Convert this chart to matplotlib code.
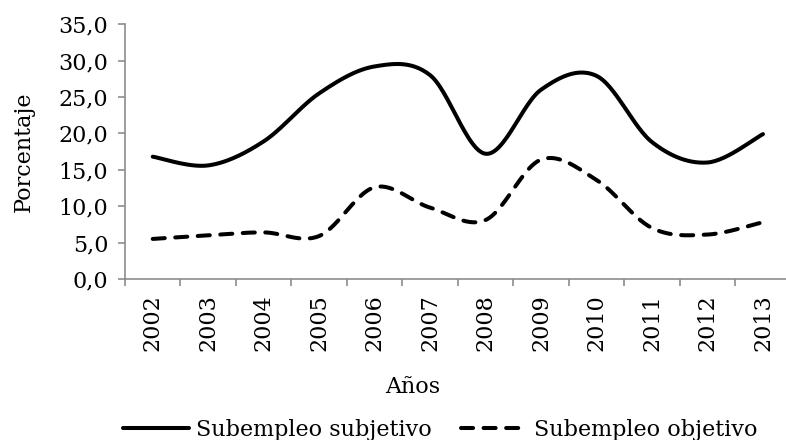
import numpy as np
import matplotlib
matplotlib.use("Agg")
import matplotlib.pyplot as plt

# data
years = ["2002", "2003", "2004", "2005", "2006", "2007",
         "2008", "2009", "2010", "2011", "2012", "2013"]
subjetivo = [16.8, 15.6, 18.9, 25.5, 29.2, 28.0, 17.2, 26.0, 27.9, 18.8, 16.0, 19.9]
objetivo = [5.5, 6.0, 6.4, 5.9, 12.6, 9.8, 8.1, 16.4, 13.6, 7.0, 6.1, 7.8]


def smooth(y, n=30):
    # Catmull-Rom curve through the points, like Excel's smoothed line
    y = np.asarray(y, dtype=float)
    x = np.arange(len(y), dtype=float)
    px = np.concatenate([[x[0]], x, [x[-1]]])
    py = np.concatenate([[y[0]], y, [y[-1]]])
    xs, ys = [], []
    t = np.linspace(0, 1, n)
    for i in range(1, len(px) - 2):
        for arr, out in ((px, xs), (py, ys)):
            p0, p1, p2, p3 = arr[i - 1], arr[i], arr[i + 1], arr[i + 2]
            c1 = p1 + (p2 - p0) / 6
            c2 = p2 - (p3 - p1) / 6
            out.extend((1 - t) ** 3 * p1 + 3 * (1 - t) ** 2 * t * c1
                       + 3 * (1 - t) * t ** 2 * c2 + t ** 3 * p2)
    return np.array(xs), np.array(ys)


fs = 16
plt.rcParams['font.family'] = ['DejaVu Serif']
fig = plt.figure(figsize=(7.86, 4.4), dpi=100)
ax = fig.add_axes([0.159, 0.366, 0.847, 0.579])

xs, ys = smooth(subjetivo)
ax.plot(xs, ys, color='black', lw=2.9, solid_capstyle='round',
        label='Subempleo subjetivo')
xo, yo = smooth(objetivo)
ax.plot(xo, yo, color='black', lw=2.9, dashes=(3.0, 2.6),
        dash_capstyle='round', label='Subempleo objetivo')

ax.set_xlim(-0.5, len(years) - 0.5)
ax.set_ylim(0, 35)
ax.set_yticks(np.arange(0, 36, 5))
ax.set_yticklabels([f"{v:.1f}".replace('.', ',') for v in np.arange(0, 36, 5)],
                   fontsize=fs)
ax.set_xticks(np.arange(len(years)))
ax.set_xticklabels(years, rotation=90, fontsize=fs)
ax.set_xticks(np.arange(len(years) + 1) - 0.5, minor=True)
ax.tick_params(axis='x', which='major', length=0, pad=11)
ax.tick_params(axis='x', which='minor', length=5, color='#8c8c8c', width=1.2)
ax.tick_params(axis='y', length=5, color='#8c8c8c', width=1.2, pad=7)

for s in ['top', 'right']:
    ax.spines[s].set_visible(False)
for s in ['left', 'bottom']:
    ax.spines[s].set_color('#8c8c8c')
    ax.spines[s].set_linewidth(1.2)

ax.set_ylabel('Porcentaje', fontsize=fs)
ax.yaxis.set_label_coords(-0.135, 0.5)
fig.text(413 / 786, 1 - 387 / 440, 'Años', fontsize=fs, ha='center', va='center')

fig.legend(loc='center', bbox_to_anchor=(440 / 786, 1 - 430 / 440), ncol=2,
           frameon=False, fontsize=fs, handlelength=3.0, handletextpad=0.3,
           columnspacing=1.3, borderpad=0, borderaxespad=0)

fig.savefig('out.png', dpi=100)
